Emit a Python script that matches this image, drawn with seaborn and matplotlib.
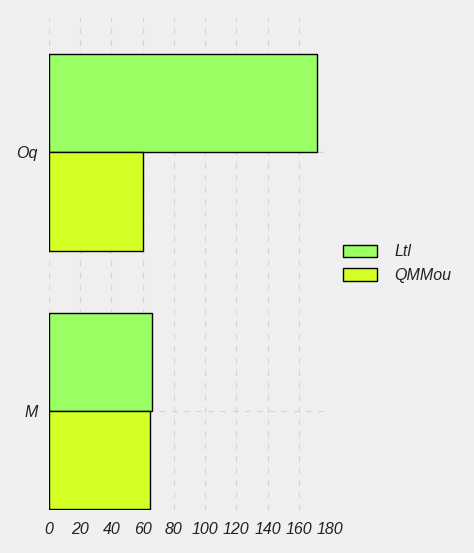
import seaborn as sns
import pandas as pd
import matplotlib.pyplot as plt

categories = ["Oq", "M"]
series = ["Ltl", "QMMou"]
ltl_values = [172, 66]
qmmou_values = [60, 65]
colors = ["#99ff62", "#d4ff24"]

sns.set_style("whitegrid")
plt.rcParams['font.family'] = ['Liberation Sans', 'DejaVu Sans']
plt.rcParams['font.style'] = 'italic'

df = pd.DataFrame({
    "cat": categories * 2,
    "val": ltl_values + qmmou_values,
    "series": [series[0]] * 2 + [series[1]] * 2,
})

fig = plt.figure(figsize=(4.74, 5.53), dpi=100, facecolor="#f0f0f0")
ax = fig.add_axes([0.1034, 0.0778, 0.5927, 0.891])
ax.set_facecolor("#efefef")

sns.barplot(data=df, x="val", y="cat", hue="series", orient="h",
            palette=colors, saturation=1, width=0.76, edgecolor="black",
            linewidth=1, ax=ax)

ax.set_xlim(0, 180)
ax.set_ylim(1.382, -0.521)
ax.set_xticks(range(0, 181, 20))
ax.grid(True, color="#d4d4d4", linestyle=(0, (5, 6)), linewidth=0.8)
ax.set_axisbelow(True)
for s in ax.spines.values():
    s.set_visible(False)
ax.tick_params(length=0, labelsize=11.5, colors="#222222")
ax.tick_params(axis="x", pad=9)
ax.tick_params(axis="y", pad=8)
ax.set_xlabel("")
ax.set_ylabel("")

leg = ax.legend(loc="center left", bbox_to_anchor=(0.997, 0.50), frameon=False,
                fontsize=11.5, handlelength=2.1, handleheight=0.8,
                handletextpad=1.1, labelspacing=0.55)
for t in leg.get_texts():
    t.set_color("#222222")

fig.savefig("out.png", dpi=100, facecolor=fig.get_facecolor())
